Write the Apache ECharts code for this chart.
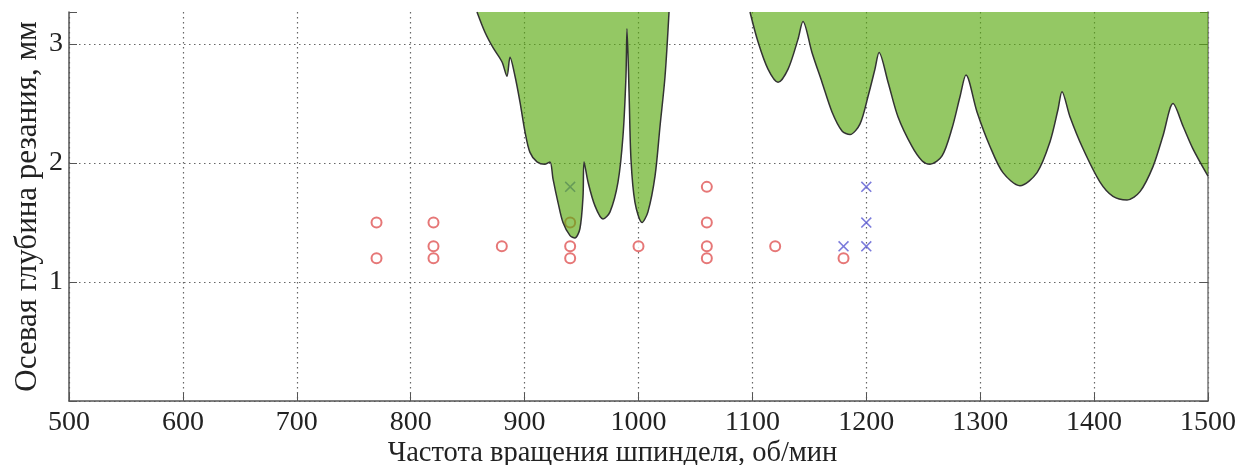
<!DOCTYPE html>
<html>
<head>
<meta charset="utf-8">
<script src="https://cdn.jsdelivr.net/npm/echarts@6/dist/echarts.min.js"></script>
<style>
  html, body { margin: 0; padding: 0; background: #fff; }
  #chart { width: 1239px; height: 465px; }
</style>
</head>
<body>
<div id="chart"></div>
<script>
// граница устойчивости (верхняя область - неустойчивая)
const lobeLeft = [
  [858.2, 3.27], [865.2, 3.10], [872.3, 2.97], [880.2, 2.85], [884.5, 2.73],
  [887.2, 2.89], [891.6, 2.73], [896.0, 2.51], [900.4, 2.26], [904.7, 2.09],
  [910.9, 2.01], [917.9, 1.99], [922.3, 2.01], [924.9, 1.87], [929.3, 1.67],
  [933.7, 1.50], [939.9, 1.39], [944.2, 1.37], [948.6, 1.45], [951.3, 1.72],
  [952.2, 2.01], [955.7, 1.84], [961.8, 1.64], [968.8, 1.53], [975.0, 1.59],
  [982.0, 1.84], [986.4, 2.23], [989.0, 2.73], [989.9, 3.13], [991.7, 2.60],
  [993.4, 2.03], [996.9, 1.67], [1003.1, 1.50], [1008.3, 1.59], [1014.5, 1.89],
  [1018.9, 2.31], [1023.3, 2.73], [1026.8, 3.27]
];
const lobeRight = [
  [1097.9, 3.27], [1104.9, 3.02], [1113.7, 2.79], [1122.5, 2.68], [1131.3, 2.79],
  [1140.0, 3.04], [1144.4, 3.19], [1152.3, 2.93], [1161.1, 2.68], [1169.9, 2.43],
  [1178.7, 2.27], [1185.7, 2.24], [1194.5, 2.33], [1201.5, 2.56], [1207.6, 2.79],
  [1211.2, 2.93], [1219.1, 2.68], [1227.8, 2.39], [1240.1, 2.14], [1248.9, 2.02],
  [1255.9, 1.99], [1266.5, 2.06], [1275.2, 2.29], [1282.3, 2.56], [1287.5, 2.74],
  [1297.2, 2.43], [1308.6, 2.14], [1320.0, 1.92], [1334.9, 1.81], [1349.9, 1.92],
  [1361.3, 2.18], [1368.3, 2.45], [1371.8, 2.60], [1378.8, 2.39], [1390.3, 2.12],
  [1405.2, 1.84], [1416.6, 1.72], [1428.9, 1.69], [1440.3, 1.76], [1451.7, 1.97],
  [1460.5, 2.23], [1469.3, 2.50], [1478.1, 2.31], [1486.8, 2.12], [1500, 1.89]
];
// эксперимент: без вибраций (кружки) и с вибрациями (крестики)
const stablePts = [
  [770, 1.5], [770, 1.2], [820, 1.5], [820, 1.3], [820, 1.2], [880, 1.3],
  [940, 1.5], [940, 1.3], [940, 1.2], [1000, 1.3], [1060, 1.8], [1060, 1.5],
  [1060, 1.3], [1060, 1.2], [1120, 1.3], [1180, 1.2]
];
const chatterPts = [[940, 1.8], [1180, 1.3], [1200, 1.8], [1200, 1.5], [1200, 1.3]];
const xTicks = [500, 600, 700, 800, 900, 1000, 1100, 1200, 1300, 1400, 1500];
const yTicks = [1, 2, 3];

const serif = "'Liberation Serif', 'DejaVu Serif', serif";
const crossPath = "path://M0,1L1,0L5,4L9,0L10,1L6,5L10,9L9,10L5,6L1,10L0,9L4,5Z";

const myChart = echarts.init(document.getElementById("chart"));

function lobeSeries(data) {
  return {
    type: "line",
    data: data,
    z: 5,
    smooth: 0.3,
    showSymbol: false,
    silent: true,
    lineStyle: { color: "#333", width: 1.5 },
    areaStyle: { origin: "end", color: "rgba(90,170,17,0.65)", opacity: 1 },
  };
}

const option = {
  backgroundColor: "#fff",
  animation: false,
  grid: { left: 69, right: 31, top: 12, bottom: 64, outerBoundsMode: "none", containLabel: false },
  xAxis: {
    type: "value",
    min: 500,
    max: 1500,
    interval: 100,
    name: "Частота вращения шпинделя, об/мин",
    nameLocation: "middle",
    nameGap: 38,
    nameMoveOverlap: false,
    nameTextStyle: { fontFamily: serif, fontSize: 28.5, color: "#222", padding: [0, 52, 0, 0] },
    axisLine: { lineStyle: { color: "#555", width: 1.5 } },
    axisTick: { inside: true, length: 8, lineStyle: { color: "#555" } },
    axisLabel: {
      margin: 8,
      fontFamily: serif,
      fontSize: 28,
      color: "#222",
      formatter: (v) => (xTicks.indexOf(v) >= 0 ? String(v) : ""),
    },
    splitLine: { show: true, lineStyle: { color: "#666", type: [1.5, 3.5], width: 1.2 } },
  },
  yAxis: [
    {
      type: "value",
      min: 0,
      max: 3.27,
      interval: 1,
      name: "Осевая глубина резания, мм",
      nameLocation: "middle",
      nameGap: 26,
      nameMoveOverlap: false,
      nameTextStyle: { fontFamily: serif, fontSize: 31, color: "#222" },
      axisLine: { show: true, lineStyle: { color: "#555", width: 1.5 } },
      axisTick: { show: true, inside: true, length: 8, lineStyle: { color: "#555" } },
      axisLabel: {
        margin: 6,
        fontFamily: serif,
        fontSize: 28,
        color: "#222",
        formatter: (v) => (yTicks.indexOf(v) >= 0 ? String(v) : ""),
      },
      splitLine: {
        show: true,
        showMaxLine: false,
        lineStyle: { color: "#666", type: [1.5, 3.5], width: 1.2 },
      },
    },
    {
      type: "value",
      position: "right",
      min: 0,
      max: 3.27,
      interval: 1,
      axisLine: { show: true, lineStyle: { color: "#777", width: 1.5 } },
      axisTick: { show: true, inside: true, length: 8, lineStyle: { color: "#555" } },
      axisLabel: { show: false },
      splitLine: { show: false },
    },
  ],
  series: [
    {
      type: "scatter",
      data: stablePts,
      z: 2,
      symbol: "emptyCircle",
      symbolSize: 10,
      itemStyle: { color: "#e05555", borderColor: "#e05555", borderWidth: 1.5 },
    },
    {
      type: "scatter",
      data: chatterPts,
      z: 2,
      symbol: crossPath,
      symbolSize: 11,
      itemStyle: { color: "#5a5ad2" },
    },
    lobeSeries(lobeLeft),
    lobeSeries(lobeRight),
  ],
};

myChart.setOption(option);
window.addEventListener("resize", function () {
  myChart.resize();
});
</script>
</body>
</html>
